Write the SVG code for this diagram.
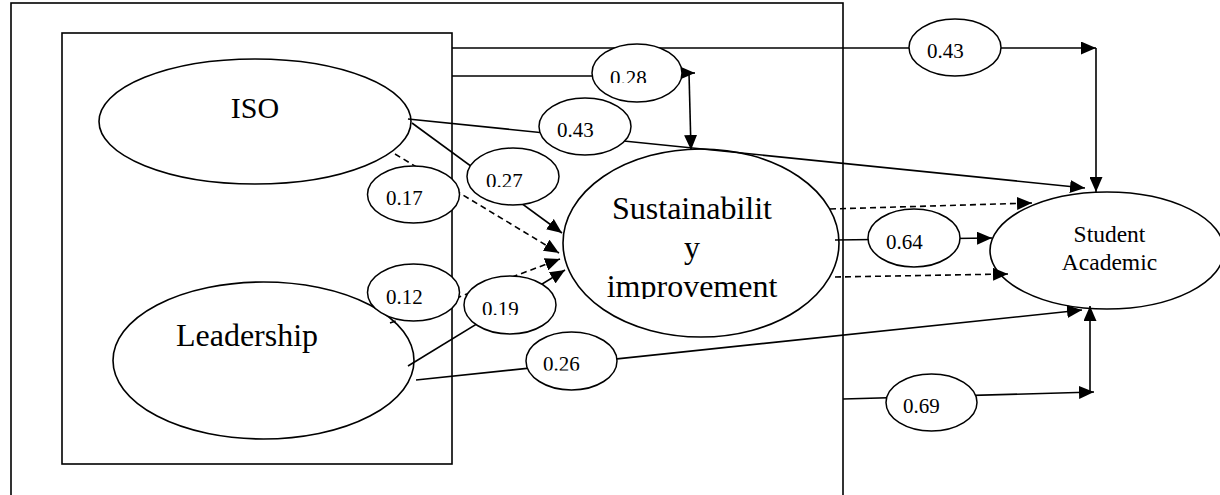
<svg xmlns="http://www.w3.org/2000/svg" width="1220" height="495" viewBox="0 0 1220 495">
<style>
.frame{fill:none;stroke:#000;stroke-width:1.6}
.node{fill:#fff;stroke:#000;stroke-width:1.6}
.lbl{fill:#fff;stroke:#000;stroke-width:1.5}
.ln{fill:none;stroke:#000;stroke-width:1.6}
.dash{fill:none;stroke:#000;stroke-width:1.6;stroke-dasharray:6,4}
.arr{marker-end:url(#ah)}
.big{font-family:"Liberation Serif","Times New Roman",serif;fill:#000;text-anchor:middle}
.num{font-family:"Liberation Serif","Times New Roman",serif;font-size:21px;fill:#000}
</style>
<defs>
<marker id="ah" viewBox="0 0 15 13" refX="15" refY="6.5" markerWidth="15" markerHeight="13" markerUnits="userSpaceOnUse" orient="auto">
<path d="M0,0 L15,6.5 L0,13 z" fill="#000"/>
</marker>
<clipPath id="c028"><rect x="590" y="40" width="100" height="43"/></clipPath>
<clipPath id="c027"><rect x="460" y="140" width="110" height="47"/></clipPath>
<clipPath id="c019"><rect x="460" y="270" width="110" height="45"/></clipPath>
<clipPath id="c026"><rect x="520" y="325" width="110" height="45.5"/></clipPath>
<clipPath id="cimp"><rect x="560" y="150" width="280" height="149"/></clipPath>
</defs>
<rect class="frame" x="11" y="3" width="832" height="500"/>
<rect class="frame" x="62" y="33" width="390" height="431"/>
<g id="iso">
<ellipse class="node" cx="255" cy="121.5" rx="156" ry="62.5"/>
<text class="big" x="255" y="118" font-size="30">ISO</text>
</g>
<g id="leadership">
<ellipse class="node" cx="263.5" cy="360.5" rx="150.5" ry="78.5"/>
<text class="big" x="247" y="346" font-size="32">Leadership</text>
</g>
<g id="sustainability">
<ellipse class="node" cx="701" cy="243" rx="138" ry="94"/>
<g clip-path="url(#cimp)">
<text class="big" x="692" y="219" font-size="32">Sustainabilit</text>
<text class="big" x="692" y="258" font-size="32">y</text>
<text class="big" x="692" y="297" font-size="32">improvement</text>
</g>
</g>
<g id="student">
<ellipse class="node" cx="1107" cy="250.5" rx="117" ry="58.5"/>
<text class="big" x="1109.5" y="242" font-size="23.5">Student</text>
<text class="big" x="1109.5" y="270" font-size="23.5">Academic</text>
</g>
<g id="connectors">
<path class="ln arr" d="M452,48 L1096,48"/>
<path class="ln arr" d="M1096,48 L1096,192"/>
<path class="ln" d="M452,76 L600,76"/>
<path class="ln arr" d="M680,73 L695,73"/>
<path class="ln arr" d="M689,73 L691,150"/>
<path class="ln arr" d="M408,119 L1085,188"/>
<path class="ln arr" d="M412,123 L562,233"/>
<path class="dash arr" d="M395,154 L559,253"/>
<path class="dash arr" d="M390,323 L560,259"/>
<path class="ln arr" d="M408,366 L565,270"/>
<path class="ln arr" d="M416,380 L1082,310"/>
<path class="dash arr" d="M830,209 L1032,203"/>
<path class="ln arr" d="M835,240 L992,238"/>
<path class="dash arr" d="M835,277 L1008,274"/>
<path class="ln arr" d="M843,399 L1094,392"/>
<path class="ln arr" d="M1090,392 L1090,306"/>
</g>
<g id="labels">
<g id="l043a"><ellipse class="lbl" cx="955" cy="47.5" rx="46" ry="28.5"/><text class="num" x="927" y="58">0.43</text></g>
<g id="l028"><ellipse class="lbl" cx="637" cy="73" rx="45" ry="29"/><text class="num" x="610" y="84.5" clip-path="url(#c028)">0.28</text></g>
<g id="l043b"><ellipse class="lbl" cx="585" cy="126.5" rx="46" ry="28.5"/><text class="num" x="557" y="137">0.43</text></g>
<g id="l027"><ellipse class="lbl" cx="513" cy="176.5" rx="46" ry="28.5"/><text class="num" x="486" y="188" clip-path="url(#c027)">0.27</text></g>
<g id="l017"><ellipse class="lbl" cx="413.5" cy="194.5" rx="46" ry="28.5"/><text class="num" x="386" y="205">0.17</text></g>
<g id="l012"><ellipse class="lbl" cx="413.5" cy="292.5" rx="46" ry="28.5"/><text class="num" x="386" y="304">0.12</text></g>
<g id="l019"><ellipse class="lbl" cx="510" cy="305" rx="46" ry="29"/><text class="num" x="482" y="316" clip-path="url(#c019)">0.19</text></g>
<g id="l026"><ellipse class="lbl" cx="571.5" cy="361" rx="45.5" ry="29"/><text class="num" x="543" y="371" clip-path="url(#c026)">0.26</text></g>
<g id="l064"><ellipse class="lbl" cx="914" cy="238" rx="46" ry="29"/><text class="num" x="886" y="249">0.64</text></g>
<g id="l069"><ellipse class="lbl" cx="931.5" cy="402.5" rx="45.5" ry="28.5"/><text class="num" x="903" y="413">0.69</text></g>
</g>
</svg>
